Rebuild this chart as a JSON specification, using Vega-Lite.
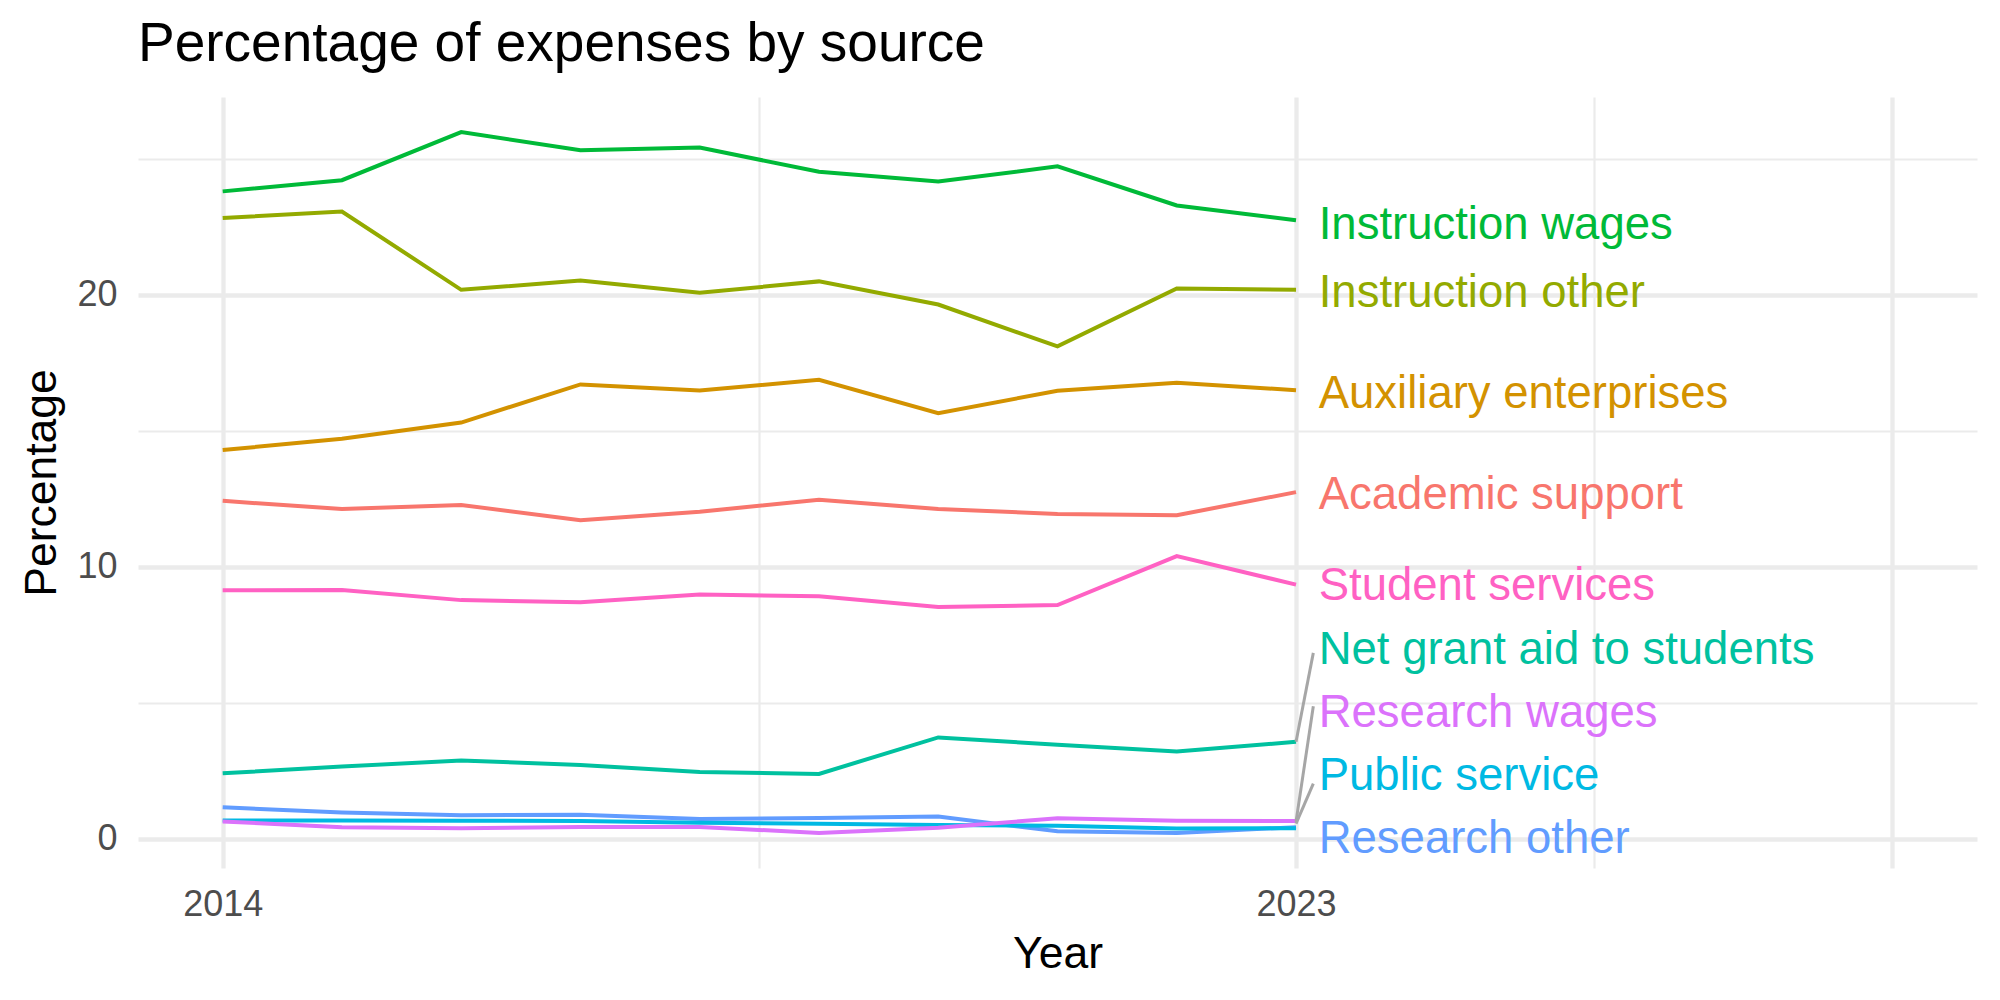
{
  "$schema": "https://vega.github.io/schema/vega-lite/v6.json",
  "width": 1839,
  "height": 771,
  "autosize": {"type": "none"},
  "padding": {"left": 138, "top": 97, "right": 23, "bottom": 132},
  "background": "white",
  "config": {"view": {"stroke": null}, "font": "Liberation Sans"},
  "title": {
    "text": "Percentage of expenses by source",
    "anchor": "start",
    "frame": "group",
    "fontSize": 55,
    "font": "Liberation Sans",
    "fontWeight": "normal",
    "color": "#000000",
    "baseline": "alphabetic",
    "offset": -19
  },
  "datasets": {
    "series": [
      {"year": 2014, "series": "Instruction wages", "value": 23.80},
      {"year": 2015, "series": "Instruction wages", "value": 24.21},
      {"year": 2016, "series": "Instruction wages", "value": 25.98},
      {"year": 2017, "series": "Instruction wages", "value": 25.31},
      {"year": 2018, "series": "Instruction wages", "value": 25.41},
      {"year": 2019, "series": "Instruction wages", "value": 24.52},
      {"year": 2020, "series": "Instruction wages", "value": 24.16},
      {"year": 2021, "series": "Instruction wages", "value": 24.72},
      {"year": 2022, "series": "Instruction wages", "value": 23.28},
      {"year": 2023, "series": "Instruction wages", "value": 22.74},
      {"year": 2014, "series": "Instruction other", "value": 22.82},
      {"year": 2015, "series": "Instruction other", "value": 23.06},
      {"year": 2016, "series": "Instruction other", "value": 20.18},
      {"year": 2017, "series": "Instruction other", "value": 20.52},
      {"year": 2018, "series": "Instruction other", "value": 20.07},
      {"year": 2019, "series": "Instruction other", "value": 20.49},
      {"year": 2020, "series": "Instruction other", "value": 19.64},
      {"year": 2021, "series": "Instruction other", "value": 18.10},
      {"year": 2022, "series": "Instruction other", "value": 20.23},
      {"year": 2023, "series": "Instruction other", "value": 20.18},
      {"year": 2014, "series": "Auxiliary enterprises", "value": 14.29},
      {"year": 2015, "series": "Auxiliary enterprises", "value": 14.70},
      {"year": 2016, "series": "Auxiliary enterprises", "value": 15.30},
      {"year": 2017, "series": "Auxiliary enterprises", "value": 16.70},
      {"year": 2018, "series": "Auxiliary enterprises", "value": 16.48},
      {"year": 2019, "series": "Auxiliary enterprises", "value": 16.87},
      {"year": 2020, "series": "Auxiliary enterprises", "value": 15.64},
      {"year": 2021, "series": "Auxiliary enterprises", "value": 16.47},
      {"year": 2022, "series": "Auxiliary enterprises", "value": 16.76},
      {"year": 2023, "series": "Auxiliary enterprises", "value": 16.49},
      {"year": 2014, "series": "Academic support", "value": 12.42},
      {"year": 2015, "series": "Academic support", "value": 12.12},
      {"year": 2016, "series": "Academic support", "value": 12.27},
      {"year": 2017, "series": "Academic support", "value": 11.71},
      {"year": 2018, "series": "Academic support", "value": 12.02},
      {"year": 2019, "series": "Academic support", "value": 12.46},
      {"year": 2020, "series": "Academic support", "value": 12.12},
      {"year": 2021, "series": "Academic support", "value": 11.94},
      {"year": 2022, "series": "Academic support", "value": 11.89},
      {"year": 2023, "series": "Academic support", "value": 12.74},
      {"year": 2014, "series": "Student services", "value": 9.13},
      {"year": 2015, "series": "Student services", "value": 9.14},
      {"year": 2016, "series": "Student services", "value": 8.77},
      {"year": 2017, "series": "Student services", "value": 8.69},
      {"year": 2018, "series": "Student services", "value": 8.98},
      {"year": 2019, "series": "Student services", "value": 8.91},
      {"year": 2020, "series": "Student services", "value": 8.52},
      {"year": 2021, "series": "Student services", "value": 8.59},
      {"year": 2022, "series": "Student services", "value": 10.39},
      {"year": 2023, "series": "Student services", "value": 9.34},
      {"year": 2014, "series": "Net grant aid to students", "value": 2.40},
      {"year": 2015, "series": "Net grant aid to students", "value": 2.65},
      {"year": 2016, "series": "Net grant aid to students", "value": 2.87},
      {"year": 2017, "series": "Net grant aid to students", "value": 2.71},
      {"year": 2018, "series": "Net grant aid to students", "value": 2.45},
      {"year": 2019, "series": "Net grant aid to students", "value": 2.38},
      {"year": 2020, "series": "Net grant aid to students", "value": 3.72},
      {"year": 2021, "series": "Net grant aid to students", "value": 3.45},
      {"year": 2022, "series": "Net grant aid to students", "value": 3.20},
      {"year": 2023, "series": "Net grant aid to students", "value": 3.56},
      {"year": 2014, "series": "Research other", "value": 1.15},
      {"year": 2015, "series": "Research other", "value": 0.96},
      {"year": 2016, "series": "Research other", "value": 0.86},
      {"year": 2017, "series": "Research other", "value": 0.88},
      {"year": 2018, "series": "Research other", "value": 0.72},
      {"year": 2019, "series": "Research other", "value": 0.76},
      {"year": 2020, "series": "Research other", "value": 0.81},
      {"year": 2021, "series": "Research other", "value": 0.27},
      {"year": 2022, "series": "Research other", "value": 0.21},
      {"year": 2023, "series": "Research other", "value": 0.42},
      {"year": 2014, "series": "Public service", "value": 0.67},
      {"year": 2015, "series": "Public service", "value": 0.67},
      {"year": 2016, "series": "Public service", "value": 0.66},
      {"year": 2017, "series": "Public service", "value": 0.65},
      {"year": 2018, "series": "Public service", "value": 0.58},
      {"year": 2019, "series": "Public service", "value": 0.55},
      {"year": 2020, "series": "Public service", "value": 0.50},
      {"year": 2021, "series": "Public service", "value": 0.47},
      {"year": 2022, "series": "Public service", "value": 0.37},
      {"year": 2023, "series": "Public service", "value": 0.38},
      {"year": 2014, "series": "Research wages", "value": 0.63},
      {"year": 2015, "series": "Research wages", "value": 0.42},
      {"year": 2016, "series": "Research wages", "value": 0.38},
      {"year": 2017, "series": "Research wages", "value": 0.43},
      {"year": 2018, "series": "Research wages", "value": 0.43},
      {"year": 2019, "series": "Research wages", "value": 0.21},
      {"year": 2020, "series": "Research wages", "value": 0.40},
      {"year": 2021, "series": "Research wages", "value": 0.75},
      {"year": 2022, "series": "Research wages", "value": 0.66},
      {"year": 2023, "series": "Research wages", "value": 0.65}
    ],
    "segments": [
      {"series": "Net grant aid to students", "year": 2023, "value": 3.56, "year_end": 2023.145, "value_end": 6.83},
      {"series": "Research wages", "year": 2023, "value": 0.62, "year_end": 2023.145, "value_end": 4.87},
      {"series": "Public service", "year": 2023, "value": 0.55, "year_end": 2023.145, "value_end": 2.02}
    ],
    "labels": [
      {"series": "Instruction wages", "year": 2023.19, "value": 22.56},
      {"series": "Instruction other", "year": 2023.19, "value": 20.06},
      {"series": "Auxiliary enterprises", "year": 2023.19, "value": 16.36},
      {"series": "Academic support", "year": 2023.19, "value": 12.62},
      {"series": "Student services", "year": 2023.19, "value": 9.29},
      {"series": "Net grant aid to students", "year": 2023.19, "value": 6.92},
      {"series": "Research wages", "year": 2023.19, "value": 4.62},
      {"series": "Public service", "year": 2023.19, "value": 2.29},
      {"series": "Research other", "year": 2023.19, "value": -0.03}
    ]
  },
  "layer": [
    {
      "data": {"name": "series"},
      "mark": {"type": "line", "strokeWidth": 4},
      "encoding": {
        "x": {
          "field": "year",
          "type": "quantitative",
          "scale": {"domain": [2013.29, 2028.71], "nice": false, "zero": false},
          "axis": {
            "title": "Year",
            "values": [2014, 2018.5, 2023, 2025.5, 2028],
            "format": "d",
            "labelExpr": "(datum.value === 2014 || datum.value === 2023) ? datum.label : ''",
            "grid": true,
            "gridColor": "#EBEBEB",
            "gridWidth": {"condition": {"test": "datum.value === 2014 || datum.value === 2023 || datum.value === 2028", "value": 4.3}, "value": 2.15},
            "domain": false,
            "ticks": false,
            "tickSize": 0,
            "labelFont": "Liberation Sans",
            "labelFontSize": 36,
            "labelColor": "#4D4D4D",
            "labelBaseline": "alphabetic",
            "labelPadding": 47,
            "labelFlush": false,
            "labelOverlap": false,
            "labelBound": false,
            "titleFont": "Liberation Sans",
            "titleFontSize": 44.5,
            "titleFontWeight": "normal",
            "titleColor": "#000000",
            "titleBaseline": "alphabetic",
            "titleAlign": "center",
            "titleX": 919.5,
            "titleY": 99
          }
        },
        "y": {
          "field": "value",
          "type": "quantitative",
          "scale": {"domain": [-1.08, 27.27], "nice": false, "zero": false},
          "axis": {
            "title": "Percentage",
            "values": [0, 5, 10, 15, 20, 25],
            "labelExpr": "(datum.value % 10 === 0) ? datum.label : ''",
            "grid": true,
            "gridColor": "#EBEBEB",
            "gridWidth": {"condition": {"test": "datum.value % 10 === 0", "value": 4.3}, "value": 2.15},
            "domain": false,
            "ticks": false,
            "tickSize": 0,
            "labelFont": "Liberation Sans",
            "labelFontSize": 36,
            "labelColor": "#4D4D4D",
            "labelPadding": 21,
            "labelOverlap": false,
            "labelBound": false,
            "labelFlush": false,
            "titleFont": "Liberation Sans",
            "titleFontSize": 44.5,
            "titleFontWeight": "normal",
            "titleColor": "#000000",
            "titleBaseline": "alphabetic",
            "titleAlign": "center",
            "titleAngle": 270,
            "titleX": -83,
            "titleY": 385.5
          }
        },
        "color": {
          "field": "series",
          "type": "nominal",
          "scale": {
            "domain": ["Academic support", "Auxiliary enterprises", "Instruction other", "Instruction wages", "Net grant aid to students", "Public service", "Research other", "Research wages", "Student services"],
            "range": ["#F8766D", "#D39200", "#93AA00", "#00BA38", "#00C19F", "#00B9E3", "#619CFF", "#DB72FB", "#FF61C3"]
          },
          "legend": null
        }
      }
    },
    {
      "data": {"name": "segments"},
      "mark": {"type": "rule", "color": "#A6A6A6", "strokeWidth": 3},
      "encoding": {
        "x": {"field": "year", "type": "quantitative"},
        "x2": {"field": "year_end"},
        "y": {"field": "value", "type": "quantitative"},
        "y2": {"field": "value_end"}
      }
    },
    {
      "data": {"name": "labels"},
      "mark": {"type": "text", "align": "left", "baseline": "middle", "fontSize": 45.5, "font": "Liberation Sans"},
      "encoding": {
        "x": {"field": "year", "type": "quantitative"},
        "y": {"field": "value", "type": "quantitative"},
        "text": {"field": "series"},
        "color": {"field": "series", "type": "nominal", "legend": null}
      }
    }
  ]
}
